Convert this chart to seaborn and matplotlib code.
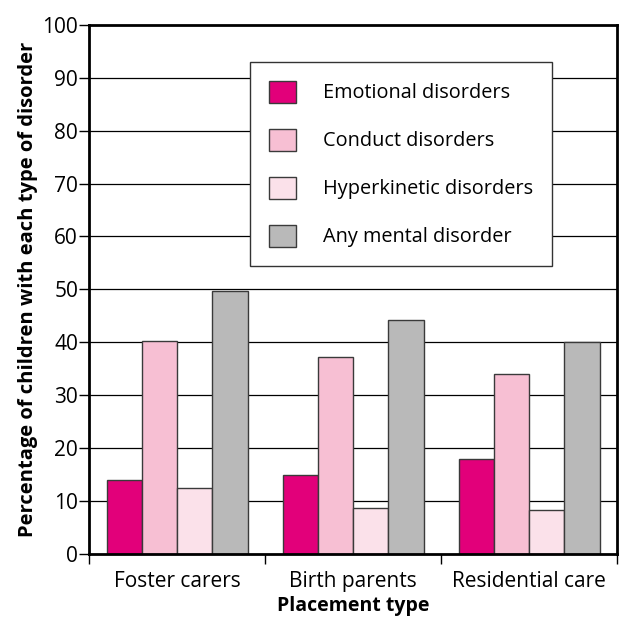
import matplotlib
matplotlib.use("Agg")
import matplotlib.pyplot as plt
import numpy as np
import pandas as pd
import seaborn as sns

# Data
placements = ["Foster carers", "Birth parents", "Residential care"]
disorders = ["Emotional disorders", "Conduct disorders",
             "Hyperkinetic disorders", "Any mental disorder"]
emotional = [14.0, 14.9, 18.0]
conduct = [40.2, 37.2, 34.0]
hyperkinetic = [12.5, 8.7, 8.3]
any_disorder = [49.6, 44.2, 40.0]
colors = ["#E2007A", "#F7BFD3", "#FBE1EA", "#B9B9B9"]

rows = []
for name, vals in zip(disorders, [emotional, conduct, hyperkinetic, any_disorder]):
    for p, v in zip(placements, vals):
        rows.append({"Placement": p, "Disorder": name, "Value": v})
df = pd.DataFrame(rows)

sns.set_style("white")
plt.rcParams["font.family"] = ["Open Sans", "DejaVu Sans"]
plt.rcParams["text.color"] = "black"
plt.rcParams["axes.labelcolor"] = "black"
plt.rcParams["xtick.color"] = "black"
plt.rcParams["ytick.color"] = "black"

fig = plt.figure(figsize=(6.19, 6.19), dpi=100)
ax = fig.add_axes([0.144, 0.105, 0.853, 0.855])

# Gridlines under bars
ax.set_axisbelow(True)
for y in np.arange(10, 100, 10):
    ax.axhline(y, color="black", linewidth=0.9, zorder=0)

sns.barplot(data=df, x="Placement", y="Value", hue="Disorder",
            palette=colors, width=0.8, edgecolor="#3a3a3a", linewidth=1.0,
            saturation=1, ax=ax, zorder=2)

ax.set_ylim(0, 100)
ax.set_xlim(-0.5, 2.5)
ax.set_yticks(np.arange(0, 101, 10))
ax.tick_params(axis="y", labelsize=15, length=7, width=1, direction="out",
               left=True, pad=1)
ax.set_xticks(range(3))
ax.tick_params(axis="x", labelsize=15, length=0, pad=12)
ax.set_xticks([-0.5, 0.5, 1.5, 2.5], minor=True)
ax.tick_params(axis="x", which="minor", length=7, width=1, bottom=True,
               direction="out")

for side in ["left", "bottom", "top", "right"]:
    ax.spines[side].set_visible(True)
    ax.spines[side].set_color("black")
    ax.spines[side].set_linewidth(2)

ax.set_xlabel("Placement type", fontsize=14, fontweight="bold", labelpad=3)
ax.set_ylabel("Percentage of children with each type of disorder",
              fontsize=14.5, fontweight="bold", labelpad=3)

leg = ax.legend(loc="upper left", bbox_to_anchor=(0.305, 0.93),
                fontsize=14.3, frameon=True, fancybox=False,
                handlelength=1.35, handleheight=1.35, handletextpad=1.35,
                labelspacing=1.27, borderpad=0.95, borderaxespad=0,
                title=None)
leg.get_frame().set_edgecolor("#333333")
leg.get_frame().set_linewidth(1.0)
leg.get_frame().set_alpha(1)

fig.savefig("out.png", dpi=100)
